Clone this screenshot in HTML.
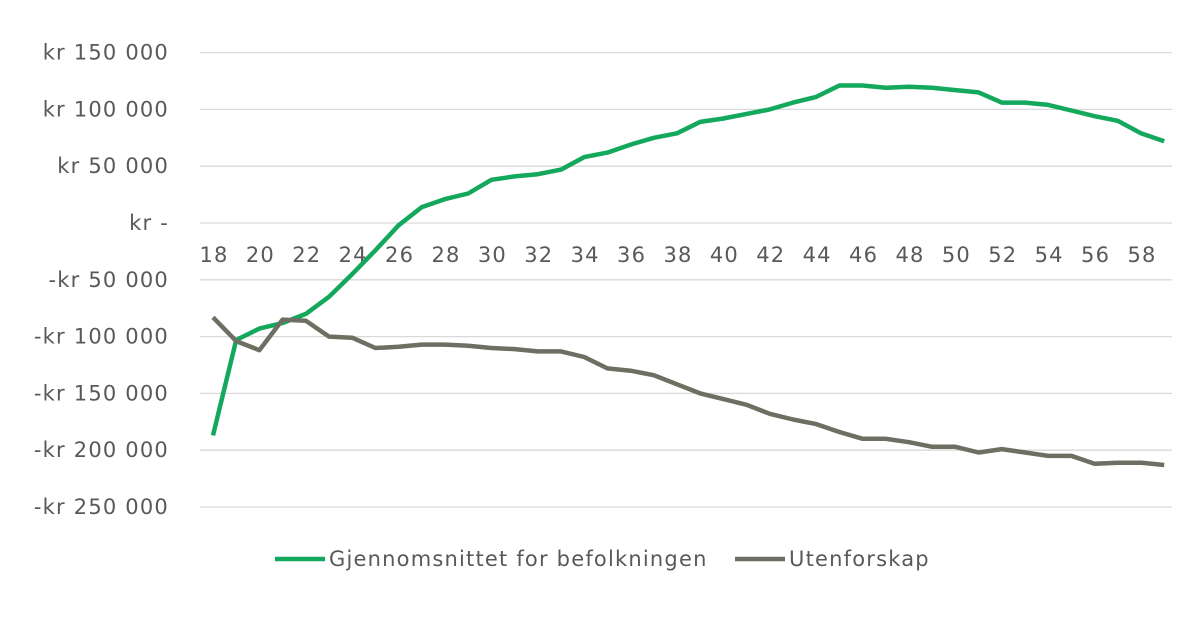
<!DOCTYPE html>
<html><head><meta charset="utf-8"><style>
html,body{margin:0;padding:0;background:#fff;}
svg{display:block;font-family:"DejaVu Sans","Liberation Sans",sans-serif;}
text{letter-spacing:1.2px;}
</style></head><body>
<svg id="c" width="1200" height="618" xmlns="http://www.w3.org/2000/svg"></svg>
<script>
const s=document.getElementById('c');
const Y=v=>223-v/50*56.8;
const X=a=>213+(a-18)*23.2;
let h='';
const ylab=['kr 150 000','kr 100 000','kr 50 000','kr -','-kr 50 000','-kr 100 000','-kr 150 000','-kr 200 000','-kr 250 000'];
for(let i=0;i<9;i++){const v=150-50*i,y=Y(v);
h+=`<line x1="200" x2="1172" y1="${y}" y2="${y}" stroke="#d9d9d9" stroke-width="1.3"/>`;
h+=`<text x="169" y="${y+7}" text-anchor="end" font-size="21" fill="#595959">${ylab[i]}</text>`;}
for(let a=18;a<=58;a+=2)h+=`<text x="${X(a)+1}" y="262" text-anchor="middle" font-size="21" fill="#595959">${a}</text>`;
const g=[-187,-103,-93,-88,-80,-65,-45,-24,-2,14,21,26,38,41,43,47,58,62,69,75,79,89,92,96,100,106,111,121,121,119,120,119,117,115,106,106,104,99,94,90,79,72];
const u=[-83,-104,-112,-85,-86,-100,-101,-110,-109,-107,-107,-108,-110,-111,-113,-113,-118,-128,-130,-134,-142,-150,-155,-160,-168,-173,-177,-184,-190,-190,-193,-197,-197,-202,-199,-202,-205,-205,-212,-211,-211,-213];
const p=d=>d.map((v,i)=>X(18+i).toFixed(1)+','+Y(v).toFixed(1)).join(' ');
h+=`<polyline points="${p(g)}" fill="none" stroke="#13a85c" stroke-width="4.5" stroke-linejoin="round"/>`;
h+=`<polyline points="${p(u)}" fill="none" stroke="#6f6e62" stroke-width="4.5" stroke-linejoin="round"/>`;
h+=`<line x1="275" x2="325" y1="559" y2="559" stroke="#13a85c" stroke-width="4.5"/><text x="329" y="566" font-size="21" fill="#595959">Gjennomsnittet for befolkningen</text>`;
h+=`<line x1="735" x2="785" y1="559" y2="559" stroke="#6f6e62" stroke-width="4.5"/><text x="789" y="566" font-size="21" fill="#595959">Utenforskap</text>`;
s.innerHTML=h;
</script>
</body></html>
